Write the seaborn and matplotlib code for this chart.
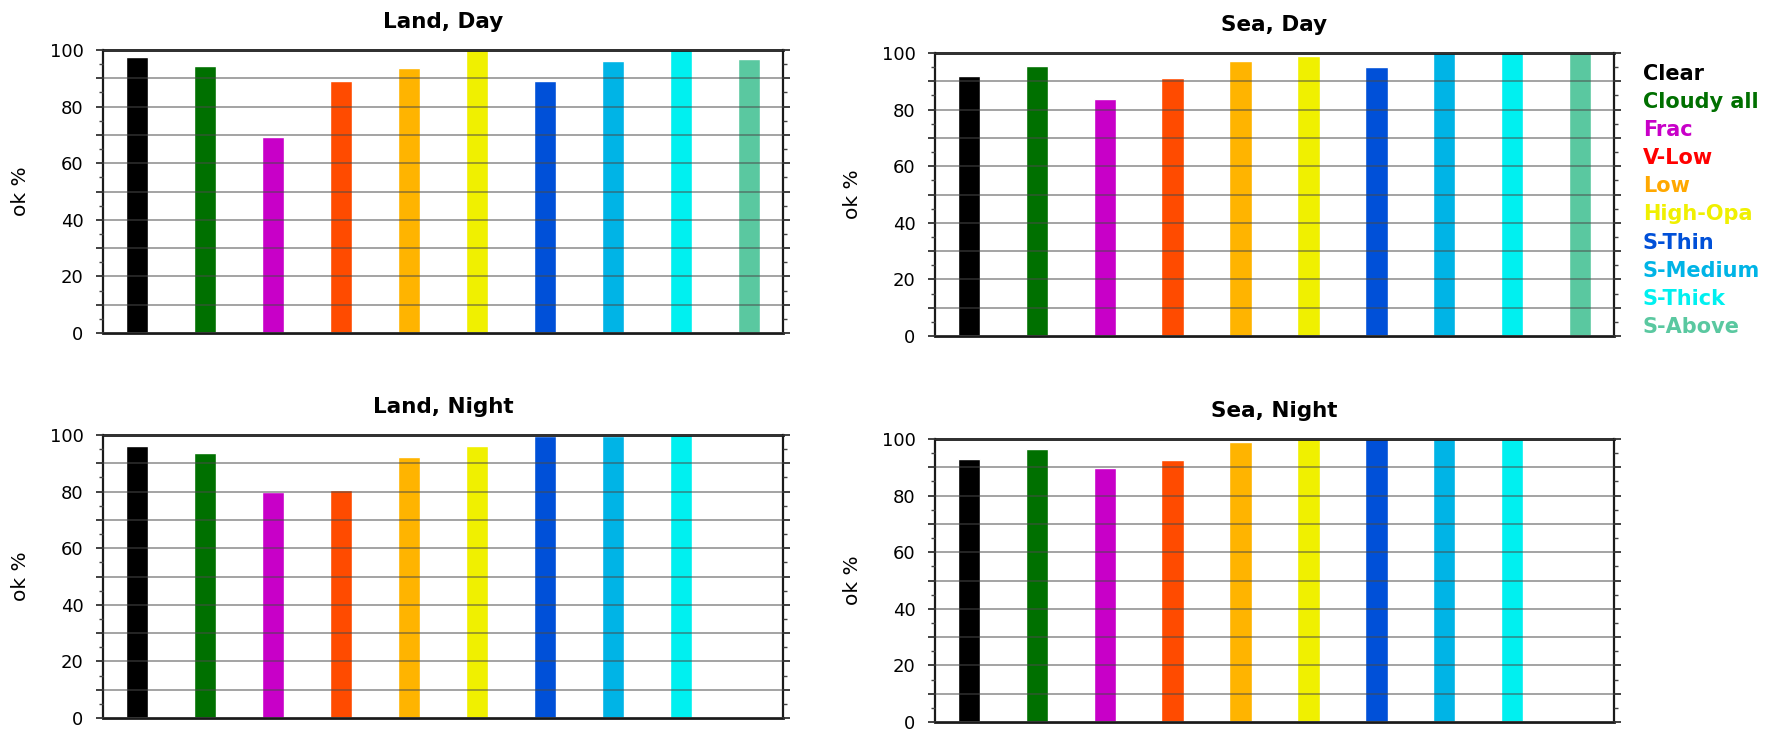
import numpy as np
import pandas as pd
import matplotlib
matplotlib.use("Agg")
import matplotlib.pyplot as plt
from matplotlib.ticker import MultipleLocator, FuncFormatter
import seaborn as sns

# Cloud-type categories and their colours
categories = ["Clear", "Cloudy all", "Frac", "V-Low", "Low", "High-Opa",
              "S-Thin", "S-Medium", "S-Thick", "S-Above"]
bar_colors = ["#000000", "#007000", "#c800c8", "#ff4b00", "#ffb400", "#f0f000",
              "#0050d8", "#00b4e6", "#00f0f0", "#5ac8a0"]
label_colors = ["#000000", "#007000", "#c800c8", "#ff0000", "#ffa800", "#f0f000",
                "#0050d8", "#00b4e6", "#00f0f0", "#5ac8a0"]

# Percentage of correct classifications per category
land_day = [97.6, 94.3, 69.1, 89.0, 93.8, 100.0, 89.0, 96.2, 100.0, 96.8]
sea_day = [91.7, 95.5, 83.8, 91.1, 97.3, 98.8, 95.2, 100.0, 100.0, 100.0]
land_night = [96.1, 93.5, 79.8, 80.4, 92.1, 96.2, 99.5, 99.8, 100.0, np.nan]
sea_night = [93.0, 96.3, 89.6, 92.7, 98.8, 100.0, 100.0, 100.0, 100.0, np.nan]

panel_titles = ["Land, Day", "Sea, Day", "Land, Night", "Sea, Night"]
y_label = "ok %"

sns.set_style("white")
plt.rcParams["font.family"] = ["DejaVu Sans"]
plt.rcParams["text.color"] = "black"
plt.rcParams["axes.labelcolor"] = "black"
plt.rcParams["axes.titlecolor"] = "black"

W, H = 1782, 733
fig = plt.figure(figsize=(W / 100, H / 100), dpi=100)


def px_axes(left, top, right, bottom):
    return fig.add_axes([left / W, 1 - bottom / H, (right - left) / W, (bottom - top) / H])


axes = [
    px_axes(103, 50, 783, 333),
    px_axes(935, 53, 1614, 336),
    px_axes(103, 435, 783, 718),
    px_axes(935, 439, 1614, 722),
]


def draw_panel(ax, values, title):
    df = pd.DataFrame({"type": categories, "ok": values})
    sns.barplot(data=df, x="type", y="ok", hue="type",
                order=categories, hue_order=categories,
                palette=bar_colors, saturation=1, width=0.33,
                dodge=False, legend=False, errorbar=None, ax=ax)
    ax.set_xlim(-0.5, len(categories) - 0.5)
    ax.set_ylim(0, 100)
    ax.set_xlabel("")
    ax.set_xticks([])

    ax.yaxis.set_major_locator(MultipleLocator(10))
    ax.yaxis.set_minor_locator(MultipleLocator(5))
    ax.yaxis.set_major_formatter(
        FuncFormatter(lambda v, _: f"{v:.0f}" if round(v) % 20 == 0 else ""))
    ax.set_axisbelow(False)
    ax.grid(axis="y", which="major", color="#4a4a4a", alpha=0.55, lw=1.3)
    ax.grid(axis="x", visible=False)

    ax.tick_params(axis="y", which="major", direction="out", length=5, width=1.3,
                   left=True, right=True, labelsize=13, pad=9, color="#333333",
                   labelcolor="black")
    ax.tick_params(axis="y", which="minor", direction="out", length=3, width=1.0,
                   left=True, right=True, color="#444444")

    for side, sp in ax.spines.items():
        sp.set_visible(True)
        sp.set_color("#1a1a1a")
        sp.set_linewidth(2.0 if side in ("top", "bottom") else 1.6)

    ax.set_title(title, fontsize=15.5, fontweight="bold", pad=16, color="black")
    ax.set_ylabel(y_label, fontsize=14.5, color="black")
    ax.yaxis.set_label_coords(-0.108, 0.5)


for ax, vals, title in zip(axes, [land_day, sea_day, land_night, sea_night], panel_titles):
    draw_panel(ax, vals, title)

# Coloured category key beside the upper-right panel
for i, (name, col) in enumerate(zip(categories, label_colors)):
    fig.text(1643 / W, 1 - (74 + 28.1 * i) / H, name, color=col,
             fontsize=15, fontweight="bold", ha="left", va="center")

fig.savefig("out.png", dpi=100)
